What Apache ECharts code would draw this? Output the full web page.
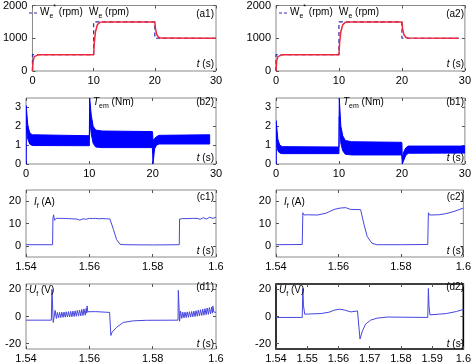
<!DOCTYPE html>
<html><head><meta charset="utf-8">
<script src="https://cdn.jsdelivr.net/npm/echarts@6/dist/echarts.min.js"></script>
<style>html,body{margin:0;padding:0;background:#fff}#c{width:474px;height:364px}</style>
</head><body><div id="c"></div>
<script>
// ---------- DATA ----------
// speed reference (step) and actual speed, rpm
const speedRefA1 = [[0,0],[0,500],[10,500],[10,1500],[20,1500],[20,1000],[30,1000]];
const speedActA1 = [[0,0],[0.1,300],[0.3,440],[0.6,490],[1,500],[10,500],[10.1,850],[10.3,1200],[10.6,1410],[11,1485],[11.5,1500],[20,1500],[20.1,1300],[20.3,1120],[20.6,1030],[21,1005],[30,1000]];
const speedRefA2 = [[0,0],[0,500],[10,500],[10,1500],[20,1500],[20,1000],[29,1000]];
const speedActA2 = [[0,0],[0.1,300],[0.3,440],[0.6,490],[1,500],[10,500],[10.1,850],[10.3,1200],[10.6,1410],[11,1485],[11.5,1500],[20,1500],[20.1,1300],[20.3,1120],[20.6,1030],[21,1005],[29,1000]];
// torque ripple envelopes (Nm)
const torqueTimeL = [0,0.02,0.3,0.6,1.0,9.95,10.0,10.05,10.3,10.6,11,12,19.95,20.0,20.05,20.3,20.6,21,29];
const torqueUpL   = [0,3.1,2.0,1.65,1.55,1.5,1.5,3.5,2.6,2.0,1.8,1.75,1.72,1.6,1.25,1.35,1.45,1.52,1.55];
const torqueLoL   = [0,2.0,1.3,1.05,0.98,0.97,0.97,2.4,1.6,1.1,0.9,0.87,0.87,0.5,0.0,0.8,1.0,1.06,1.06];
const torqueTimeR = [0,0.02,0.3,0.6,1.0,9.95,10.0,10.05,10.3,10.6,11,12,19.95,20.0,20.05,20.3,20.6,21,30];
const torqueUpR   = [0,2.3,1.3,1.0,0.92,0.9,0.9,3.5,2.0,1.5,1.25,1.18,1.15,1.1,0.3,0.65,0.85,0.95,0.95];
const torqueLoR   = [0,1.5,0.7,0.58,0.55,0.55,0.55,2.5,1.1,0.7,0.52,0.48,0.48,0.4,0.0,0.2,0.45,0.57,0.58];
// field current (A)
const currentC1 = [[1.54,0.5],[1.5484,0.5],[1.5485,12.0],[1.5487,13.9],[1.5490,11.4],[1.5495,12.3],[1.5500,11.5],[1.5505,12.3],[1.5510,11.6],[1.5515,12.3],[1.5520,11.6],[1.5525,12.2],[1.5530,11.7],[1.5535,12.2],[1.5540,11.7],[1.5545,12.1],[1.5550,11.6],[1.5560,12.0],[1.5570,11.5],[1.5580,12.1],[1.5590,11.9],[1.5600,12.3],[1.5610,12.2],[1.5620,12.3],[1.5630,12.1],[1.5640,12.2],[1.5655,12.1],[1.5665,12.0],[1.5676,7.4],[1.5686,2.8],[1.5697,0.7],[1.5710,0.5],[1.5800,0.4],[1.5884,0.5],[1.5885,12.0],[1.5887,12.6],[1.5890,11.5],[1.5895,12.2],[1.5900,11.6],[1.5905,12.2],[1.5910,11.7],[1.5915,12.2],[1.5920,11.7],[1.5925,12.3],[1.5930,11.8],[1.5940,12.3],[1.5950,11.9],[1.5960,12.6],[1.5970,12.0],[1.5980,12.8],[1.5990,12.3],[1.6000,12.8]];
const currentC2 = [[1.54,0.5],[1.5484,0.6],[1.5486,14.8],[1.5490,13.8],[1.5500,13.9],[1.5533,13.8],[1.5560,14.6],[1.5586,16.3],[1.5605,16.9],[1.5623,17.1],[1.5639,16.3],[1.5671,16.2],[1.5682,9.5],[1.5692,4.2],[1.5707,1.2],[1.5723,0.5],[1.5800,0.5],[1.5886,0.6],[1.5888,14.8],[1.5892,13.8],[1.5920,13.9],[1.5944,14.4],[1.5970,15.4],[1.6000,16.9]];
// field voltage (V)
const voltageD1 = [[1.54,-2.7],[1.5480,-2.7],[1.5482,20],[1.5486,-4.4],[1.5490,-3.6],[1.5492,4.5],[1.5496,-1.5],[1.5499,3.0],[1.5503,-1.0],[1.5506,3.0],[1.5510,-0.8],[1.5513,3.2],[1.5517,-0.6],[1.5520,3.3],[1.5524,-0.5],[1.5527,3.5],[1.5531,-0.4],[1.5534,3.6],[1.5538,-0.3],[1.5541,3.8],[1.5545,-0.2],[1.5548,4.0],[1.5552,0],[1.5555,4.2],[1.5559,0.2],[1.5562,4.5],[1.5566,0.3],[1.5569,4.8],[1.5573,0.5],[1.5576,5.2],[1.5580,0.7],[1.5583,5.6],[1.5587,1.0],[1.5590,6.0],[1.5592,2.5],[1.5593,7.8],[1.5595,3.5],[1.5620,3.6],[1.5650,3.2],[1.5664,3.0],[1.5668,-14],[1.5672,-11.5],[1.5686,-8],[1.5707,-4.4],[1.5739,-3.2],[1.5781,-2.8],[1.5880,-2.7],[1.5881,19.3],[1.5885,-3.5],[1.5888,4.0],[1.5892,-1.4],[1.5895,3.2],[1.5899,-1],[1.5902,3.2],[1.5906,-0.8],[1.5909,3.4],[1.5913,-0.6],[1.5916,3.5],[1.5920,-0.4],[1.5923,3.7],[1.5927,-0.2],[1.5930,4.0],[1.5934,0],[1.5937,4.3],[1.5941,0.2],[1.5944,4.7],[1.5948,0.5],[1.5951,5.0],[1.5955,0.7],[1.5958,5.4],[1.5962,1.0],[1.5965,5.8],[1.5969,1.3],[1.5972,6.3],[1.5976,1.6],[1.5979,6.6],[1.5983,1.9],[1.5986,7.0],[1.5989,2.5],[1.5990,7.8],[1.5993,3.4],[1.6,3.0]];
const voltageD2 = [[1.54,-0.7],[1.5484,-0.7],[1.5486,20.7],[1.5488,8],[1.5492,1.7],[1.5545,2.2],[1.5570,3.2],[1.5587,4.7],[1.5603,5.4],[1.5619,4.8],[1.5640,3.4],[1.5661,4.1],[1.5664,4.0],[1.5669,-16.6],[1.5677,-10.5],[1.5687,-5.6],[1.5703,-2.7],[1.5724,-1.2],[1.5756,-0.4],[1.5800,-0.5],[1.5886,-0.7],[1.5888,20.7],[1.5890,8],[1.5893,1.2],[1.5946,2.2],[1.5978,3.7],[1.6,5.2]];
// tick labels
const timeTicks = [0,10,20,30];
const zoomTicks = [1.54,1.56,1.58,1.6];
const zoomTicksFine = [1.54,1.55,1.56,1.57,1.58,1.59,1.6];
const speedTicks = [0,1000,2000];
const torqueTicks = [0,1,2,3];
const currentTicks = [0,10,20];
const voltageTicks = [-20,0,20];

// ---------- LAYOUT ----------
const FONT = '"Liberation Sans", Arial, Helvetica, sans-serif';
const colL = 26, colR = 276, W = 190;
const rows = [{top:5,h:66},{top:98,h:66},{top:190,h:67},{top:284,h:66}];

const grids = [], xAxes = [], yAxes = [], series = [];
function panel(col, row, xr, yr, border) {
  const i = grids.length;
  grids.push({left: col, top: rows[row].top, width: W, height: rows[row].h, show: true,
    borderColor: border ? '#000' : '#8a8a8a', borderWidth: border ? 1.6 : 1, backgroundColor: '#fff'});
  const tick = {inside: true, length: 3, lineStyle: {color: '#555', width: 1}};
  const lab = {fontSize: 11, fontFamily: FONT, color: '#000'};
  [false, true].forEach(sec => {
    xAxes.push({type: 'value', gridIndex: i, min: xr.min, max: xr.max, position: sec ? 'top' : 'bottom',
      axisLine: {show: false, onZero: false}, splitLine: {show: false},
      axisTick: Object.assign({customValues: xr.ticks}, tick),
      axisLabel: Object.assign({show: !sec, margin: 4, customValues: xr.ticks, formatter: v => String(+(+v).toFixed(4))}, lab)});
    yAxes.push({type: 'value', gridIndex: i, min: yr.min, max: yr.max, position: sec ? 'right' : 'left',
      axisLine: {show: false, onZero: false}, splitLine: {show: false},
      axisTick: Object.assign({customValues: yr.ticks}, tick),
      axisLabel: Object.assign({show: !sec, margin: 5, customValues: yr.ticks, formatter: v => String(+(+v).toFixed(4))}, lab)});
  });
  return 2 * i;
}
function line(ax, data, color, width, dashed, z) {
  series.push({type: 'line', xAxisIndex: ax, yAxisIndex: ax, data, showSymbol: false, animation: false,
    z: z || 2, lineStyle: {color, width, type: dashed ? [4, 3] : 'solid'}});
}
function band(ax, t, lo, up) {
  series.push({type: 'custom', xAxisIndex: ax, yAxisIndex: ax, animation: false, clip: true,
    data: t.map((x, k) => [x, lo[k], up[k]]),
    encode: {x: 0, y: [1, 2]},
    renderItem: (params, api) => {
      if (params.dataIndex !== 0) return null;
      const pts = t.map((x, k) => api.coord([x, up[k]]))
        .concat(t.map((x, k) => api.coord([x, lo[k]])).reverse());
      return {type: 'polygon', shape: {points: pts}, style: {fill: '#0000ff', stroke: '#0000ff', lineWidth: 1}};
    }});
}

const tX = {min: 0, max: 30, ticks: timeTicks};
const zX = {min: 1.54, max: 1.6, ticks: zoomTicks};
const zXf = {min: 1.54, max: 1.6, ticks: zoomTicksFine};

let a = panel(colL, 0, tX, {min: 0, max: 2000, ticks: speedTicks});
line(a, speedRefA1, '#2a2ab0', 1.2, true, 2); line(a, speedActA1, '#f0283c', 1.5, false, 3);
a = panel(colR, 0, tX, {min: 0, max: 2000, ticks: speedTicks});
line(a, speedRefA2, '#2a2ab0', 1.2, true, 2); line(a, speedActA2, '#f0283c', 1.5, false, 3);
a = panel(colL, 1, tX, {min: 0, max: 3.5, ticks: torqueTicks});
band(a, torqueTimeL, torqueLoL, torqueUpL);
a = panel(colR, 1, tX, {min: 0, max: 3.5, ticks: torqueTicks});
band(a, torqueTimeR, torqueLoR, torqueUpR);
a = panel(colL, 2, zX, {min: -5, max: 25, ticks: currentTicks});
line(a, currentC1, '#4646e0', 1);
a = panel(colR, 2, zX, {min: -5, max: 25, ticks: currentTicks});
line(a, currentC2, '#4646e0', 1);
a = panel(colL, 3, zX, {min: -24, max: 24, ticks: voltageTicks});
line(a, voltageD1, '#4646e0', 1);
a = panel(colR, 3, zXf, {min: -24, max: 24, ticks: voltageTicks}, true);
line(a, voltageD2, '#4646e0', 1);

// ---------- ANNOTATIONS ----------
const RICH = {
  n: {fontSize: 10, fontFamily: FONT, lineHeight: 16, verticalAlign: 'middle', fill: '#000'},
  i: {fontSize: 10, fontFamily: FONT, fontStyle: 'italic', lineHeight: 16, verticalAlign: 'middle', fill: '#000'},
  s: {fontSize: 7, fontFamily: FONT, lineHeight: 7, verticalAlign: 'bottom', fill: '#000'},
  p: {fontSize: 7, fontFamily: FONT, lineHeight: 7, verticalAlign: 'top', fill: '#000'}
};
const graphics = [];
function txt(x, y, text, align) {
  graphics.push({type: 'text', x, y, z: 100, style: {text, rich: RICH, fontSize: 10, fontFamily: FONT, fill: '#000',
    align: align || 'left', textAlign: align || 'left', verticalAlign: 'middle', textVerticalAlign: 'middle'}});
}
function dash(x, y) {
  graphics.push({type: 'line', z: 100, shape: {x1: x, y1: y, x2: x + 8, y2: y},
    style: {stroke: '#2a2ab0', lineWidth: 1.2, lineDash: [3, 2]}});
}
[[colL, '(a1)'], [colR, '(a2)']].forEach(([c, tag]) => {
  dash(c + 3, 13);
  txt(c + 14, 12, '{n|W}{s|e}{p|*}{n| (rpm)}');
  txt(c + 63, 12, '{n|W}{s|e}{n| (rpm)}');
  txt(c + W - 2, 14, '{n|' + tag + '}', 'right');
  txt(c + W - 2, 64, '{i|t}{n| (s)}', 'right');
});
[[colL, '(b2)'], [colR, '(b1)']].forEach(([c, tag]) => {
  txt(c + 67, 102, '{i|T}{s|em}{n| (Nm)}');
  txt(c + W - 2, 102, '{n|' + tag + '}', 'right');
  txt(c + W - 2, 158, '{i|t}{n| (s)}', 'right');
});
[[colL, '(c1)'], [colR, '(c2)']].forEach(([c, tag]) => {
  txt(c + 8, 202, '{i|I}{s|f}{n| (A)}');
  txt(c + W - 2, 197, '{n|' + tag + '}', 'right');
  txt(c + W - 2, 251, '{i|t}{n| (s)}', 'right');
});
[[colL, '(d1)'], [colR, '(d2)']].forEach(([c, tag]) => {
  txt(c + 3, 290, '{i|U}{s|f}{n| (V)}');
  txt(c + W - 2, 287, '{n|' + tag + '}', 'right');
  txt(c + W - 2, 344, '{i|t}{n| (s)}', 'right');
});

const chart = echarts.init(document.getElementById('c'), null, {renderer: 'canvas'});
chart.setOption({animation: false, backgroundColor: '#fff', grid: grids, xAxis: xAxes, yAxis: yAxes, series, graphic: graphics});
</script></body></html>
